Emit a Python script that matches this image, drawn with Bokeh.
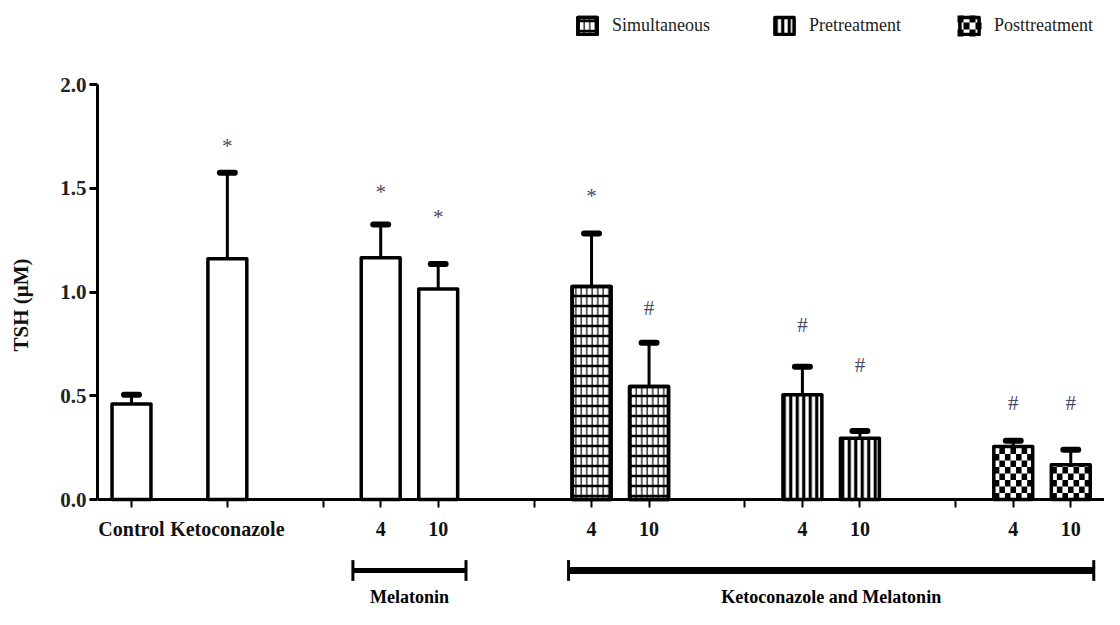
from bokeh.plotting import figure
from bokeh.models import (Range1d, LinearAxis, FixedTicker, Legend, LegendItem,
                          ColumnDataSource)
from bokeh.core.properties import value
from bokeh.embed import file_html
from bokeh.resources import INLINE

# ---------------- data ----------------
bar_labels = ["Control", "Ketoconazole", "4", "10", "4", "10", "4", "10", "4", "10"]
tsh_mean = [0.46, 1.16, 1.165, 1.015, 1.027, 0.545, 0.505, 0.295, 0.255, 0.168]
tsh_err = [0.045, 0.415, 0.16, 0.12, 0.255, 0.21, 0.135, 0.035, 0.028, 0.072]
treatment = ["none", "none", "none", "none", "Simultaneous", "Simultaneous",
             "Pretreatment", "Pretreatment", "Posttreatment", "Posttreatment"]
sig_marks = ["", "*", "*", "*", "*", "#", "#", "#", "#", "#"]
sig_y = [0.0, 1.706, 1.48, 1.36, 1.465, 0.925, 0.84, 0.646, 0.467, 0.467]
group_names = ["Melatonin", "Ketoconazole and Melatonin"]
group_members = [[2, 3], [4, 5, 6, 7, 8, 9]]
y_ticks = [0.0, 0.5, 1.0, 1.5, 2.0]
legend_names = ["Simultaneous", "Pretreatment", "Posttreatment"]

# ---------------- layout ----------------
FONT = "Liberation Serif"
x = [0, 5]
sep_ticks = []
pos = 5
for _ in range(4):
    pos += 5
    sep_ticks.append(pos)
    pos += 3
    x.append(pos)
    pos += 3
    x.append(pos)

W, H = 1104, 609
LEFT = 97
X0, X1 = -1.774, 50.76
Y0, Y1 = -0.530, 2.4048
PXX = (W - LEFT) / (X1 - X0)   # pixels per x unit
PXY = H / (Y1 - Y0)            # pixels per y unit

p = figure(width=W, height=H, output_backend="svg", toolbar_location=None,
           x_range=Range1d(X0, X1), y_range=Range1d(Y0, Y1),
           min_border_left=LEFT, min_border_right=0, min_border_top=0,
           min_border_bottom=0, x_axis_location=None, y_axis_location=None)
p.outline_line_color = None
p.grid.grid_line_color = None
p.background_fill_color = "white"
p.border_fill_color = "white"

# axes
yaxis = LinearAxis(bounds=(0, 2), ticker=FixedTicker(ticks=y_ticks))
yaxis.major_label_overrides = {t: f"{t:.1f}" for t in y_ticks}
yaxis.axis_line_width = 3
yaxis.major_tick_line_width = 3
yaxis.major_tick_out = 8
yaxis.major_tick_in = 0
yaxis.minor_tick_line_color = None
yaxis.major_label_text_font = FONT
yaxis.major_label_text_font_style = "bold"
yaxis.major_label_text_font_size = "21px"
yaxis.major_label_text_color = "#222222"
yaxis.major_label_standoff = 3
yaxis.axis_label = "TSH (μM)"
yaxis.axis_label_text_font = FONT
yaxis.axis_label_text_font_style = "bold"
yaxis.axis_label_text_font_size = "21px"
yaxis.axis_label_text_color = "#111111"
yaxis.axis_label_standoff = 24
p.add_layout(yaxis, "left")

all_ticks = sorted(x + sep_ticks)
overrides = {t: "" for t in sep_ticks}
for xi, lab in zip(x, bar_labels):
    overrides[xi] = lab
xaxis = LinearAxis(fixed_location=0, ticker=FixedTicker(ticks=all_ticks))
xaxis.major_label_overrides = overrides
xaxis.axis_line_width = 3
xaxis.major_tick_line_width = 2
xaxis.major_tick_out = 8
xaxis.major_tick_in = 0
xaxis.minor_tick_line_color = None
xaxis.major_label_text_font = FONT
xaxis.major_label_text_font_style = "bold"
xaxis.major_label_text_font_size = "20px"
xaxis.major_label_text_color = "#111111"
xaxis.major_label_standoff = 10
p.add_layout(xaxis, "below")

BW = 2.03
top = [m + e for m, e in zip(tsh_mean, tsh_err)]
src = ColumnDataSource(dict(x=x, mean=tsh_mean, top=top,
                            cl=[xi - 0.39 for xi in x], cr=[xi + 0.39 for xi in x]))

# error bars
p.segment(x0="x", y0="mean", x1="x", y1="top", source=src, line_width=3, line_color="black")
p.segment(x0="cl", y0="top", x1="cr", y1="top", source=src, line_width=6,
          line_color="black", line_cap="round")


def sub(idx):
    return ColumnDataSource(dict(x=[x[i] for i in idx], mean=[tsh_mean[i] for i in idx]))


common = dict(x="x", top="mean", bottom=0, width=BW, line_color="black",
              line_width=3.5, line_join="round")

plain = [i for i, t in enumerate(treatment) if t == "none"]
p.vbar(source=sub(plain), fill_color="white", **common)

renderers = {}
sim = [i for i, t in enumerate(treatment) if t == "Simultaneous"]
r1 = p.vbar(source=sub(sim), fill_color="white", hatch_pattern="vertical_line",
            hatch_scale=5.5, hatch_weight=1.2, hatch_color="black", **common)
r2 = p.vbar(source=sub(sim), fill_alpha=0, hatch_pattern="horizontal_line",
            hatch_scale=10, hatch_weight=2.5, hatch_color="black", **common)
renderers["Simultaneous"] = [r1, r2]

pre = [i for i, t in enumerate(treatment) if t == "Pretreatment"]
renderers["Pretreatment"] = [p.vbar(source=sub(pre), fill_color="white",
                                    hatch_pattern="vertical_line", hatch_scale=6.5,
                                    hatch_weight=3.2, hatch_color="black", **common)]

# posttreatment: checkerboard texture built from cells inside each bar
post = [i for i, t in enumerate(treatment) if t == "Posttreatment"]
p.vbar(source=sub(post), fill_color="white", line_alpha=0, x="x", top="mean",
       bottom=0, width=BW)
NCOL = 7
CH = 6.5 / PXY
cl_, cr_, cb_, ct_ = [], [], [], []


def add_checker(left, right, bottom, top_, ncol, ch):
    cw = (right - left) / ncol
    r = 0
    yb = bottom
    while yb < top_ - 1e-9:
        yt = min(yb + ch, top_)
        for c in range(ncol):
            if (r + c) % 2 == 0:
                cl_.append(left + c * cw)
                cr_.append(left + (c + 1) * cw)
                cb_.append(yb)
                ct_.append(yt)
        yb = yt
        r += 1


for i in post:
    add_checker(x[i] - BW / 2, x[i] + BW / 2, 0, tsh_mean[i], NCOL, CH)

# legend positions (frame pixels: left, bottom)
leg_pos = [(478, 573), (675, 573), (860, 573)]
GW, GH = 24, 21
lx, ly = leg_pos[2]
add_checker(X0 + lx / PXX, X0 + (lx + GW) / PXX, Y0 + ly / PXY, Y0 + (ly + GH) / PXY,
            4, (GH / 3) / PXY)
p.quad(left=cl_, right=cr_, bottom=cb_, top=ct_, fill_color="black", line_alpha=0)
renderers["Posttreatment"] = [p.vbar(source=sub(post), fill_alpha=0, **common)]

# significance marks
sig_idx = [i for i, s in enumerate(sig_marks) if s]
p.text(x=[x[i] for i in sig_idx], y=[sig_y[i] for i in sig_idx],
       text=[sig_marks[i] for i in sig_idx], text_align="center", text_baseline="middle",
       text_font=value(FONT), text_font_size="21px", text_color="#4a4a68")

# group brackets
pads = [1.45, 1.2]
widths = [5, 7]
BY = -0.342
for name, members, pad, lw in zip(group_names, group_members, pads, widths):
    x0 = x[members[0]] - pad
    x1 = x[members[-1]] + pad
    p.segment(x0=[x0], y0=[BY], x1=[x1], y1=[BY], line_width=lw, line_color="black")
    p.segment(x0=[x0, x1], y0=[BY - 0.05, BY - 0.05], x1=[x0, x1], y1=[BY + 0.05, BY + 0.05],
              line_width=3, line_color="black")
    p.text(x=[(x0 + x1) / 2], y=[-0.472], text=[name], text_align="center",
           text_baseline="middle", text_font=value(FONT), text_font_style="bold",
           text_font_size="18px", text_color="black")

# legends
for name, loc in zip(legend_names, leg_pos):
    leg = Legend(items=[LegendItem(label=name, renderers=renderers[name])],
                 location=loc, orientation="horizontal", padding=0, margin=0,
                 glyph_width=GW, glyph_height=GH, label_height=GH, label_standoff=13,
                 label_text_font=FONT, label_text_font_size="18px",
                 label_text_color="#222222",
                 border_line_alpha=0, background_fill_alpha=0)
    p.add_layout(leg)

open("out.html", "w").write(file_html(p, INLINE))
